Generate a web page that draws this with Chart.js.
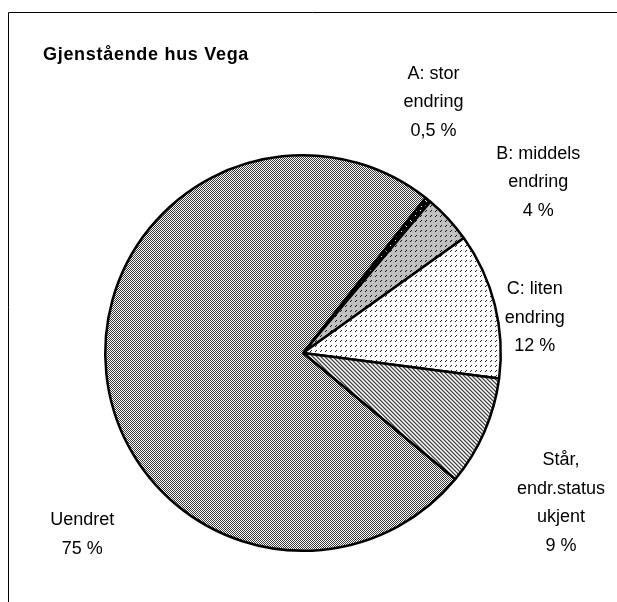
<!DOCTYPE html>
<html>
<head>
<meta charset="utf-8">
<script src="https://cdn.jsdelivr.net/npm/chart.js@4"></script>
<style>
  html, body { margin: 0; padding: 0; background: #fff; }
  #wrap { width: 617px; height: 602px; }
</style>
</head>
<body>
<div id="wrap"><canvas id="chart" width="617" height="602"></canvas></div>
<script>
// chart data
const title = "Gjenstående hus Vega";
const categories = ["A: stor\nendring", "B: middels\nendring", "C: liten\nendring", "Står,\nendr.status\nukjent", "Uendret"];
const values = [0.5, 4, 12, 9, 75];

// where each label sits: angle (deg, clockwise from top) and distance in radii
const labelPlace = [[27.5, 1.43], [54, 1.47], [81.4, 1.185], [120.2, 1.51], [230.6, 1.445]];

function makePattern(size, bg, fg, dots) {
    const c = document.createElement("canvas");
    c.width = size; c.height = size;
    const g = c.getContext("2d");
    g.fillStyle = bg;
    g.fillRect(0, 0, size, size);
    g.fillStyle = fg;
    dots.forEach(d => g.fillRect(d[0], d[1], 1, 1));
    return g.createPattern(c, "repeat");
}

// diagonal hatch used for "Står"
function stripePattern() {
    const shades = ["#444", "#999", "#fff", "#c8c8c8"];
    const c = document.createElement("canvas");
    c.width = 4; c.height = 4;
    const g = c.getContext("2d");
    for (let y = 0; y < 4; y++) {
        for (let x = 0; x < 4; x++) {
            g.fillStyle = shades[(x - y + 8) % 4];
            g.fillRect(x, y, 1, 1);
        }
    }
    return g.createPattern(c, "repeat");
}

const fills = [
    makePattern(5, "#000", "#fff", [[0, 0], [1, 1]]),
    makePattern(5, "#c0c0c0", "#111", [[1, 0], [0, 1]]),
    makePattern(5, "#fff", "#222", [[1, 0], [0, 1]]),
    stripePattern(),
    makePattern(2, "#fff", "#3a3a3a", [[0, 0], [1, 1]])
];

const decor = {
    id: "decor",
    beforeDraw(chart) {
        const ctx = chart.ctx;
        ctx.save();
        ctx.strokeStyle = "#000";
        ctx.lineWidth = 1;
        ctx.beginPath();
        ctx.moveTo(8.5, 602);
        ctx.lineTo(8.5, 12.5);
        ctx.lineTo(617, 12.5);
        ctx.stroke();
        ctx.restore();
    },
    afterDraw(chart) {
        const ctx = chart.ctx;
        const arc = chart.getDatasetMeta(0).data[0];
        const cx = arc.x, cy = arc.y, r = arc.outerRadius;
        ctx.save();
        ctx.fillStyle = "#000";
        ctx.textBaseline = "middle";
        ctx.font = "bold 18px 'Liberation Sans', Arial, sans-serif";
        ctx.letterSpacing = "0.7px";
        ctx.textAlign = "left";
        ctx.fillText(title, 43, 55);
        ctx.letterSpacing = "0px";
        ctx.font = "18px 'Liberation Sans', Arial, sans-serif";
        ctx.textAlign = "center";
        categories.forEach((cat, i) => {
            const lines = cat.split("\n").concat([String(values[i]).replace(".", ",") + " %"]);
            const a = labelPlace[i][0] * Math.PI / 180;
            const d = labelPlace[i][1] * r;
            const x = cx + Math.sin(a) * d;
            const y = cy - Math.cos(a) * d;
            const lh = 28.5;
            const top = y - (lines.length - 1) * lh / 2;
            lines.forEach((t, j) => ctx.fillText(t, x, top + j * lh));
        });
        ctx.restore();
    }
};

new Chart(document.getElementById("chart"), {
    type: "pie",
    data: {
        labels: categories,
        datasets: [{
            data: values,
            backgroundColor: fills,
            borderColor: "#000",
            borderWidth: 2.5
        }]
    },
    options: {
        responsive: false,
        animation: false,
        rotation: 38.3,
        layout: { padding: { left: 104, top: 154, right: 115, bottom: 50 } },
        plugins: {
            legend: { display: false },
            title: { display: false },
            tooltip: { enabled: false }
        }
    },
    plugins: [decor]
});
</script>
</body>
</html>
